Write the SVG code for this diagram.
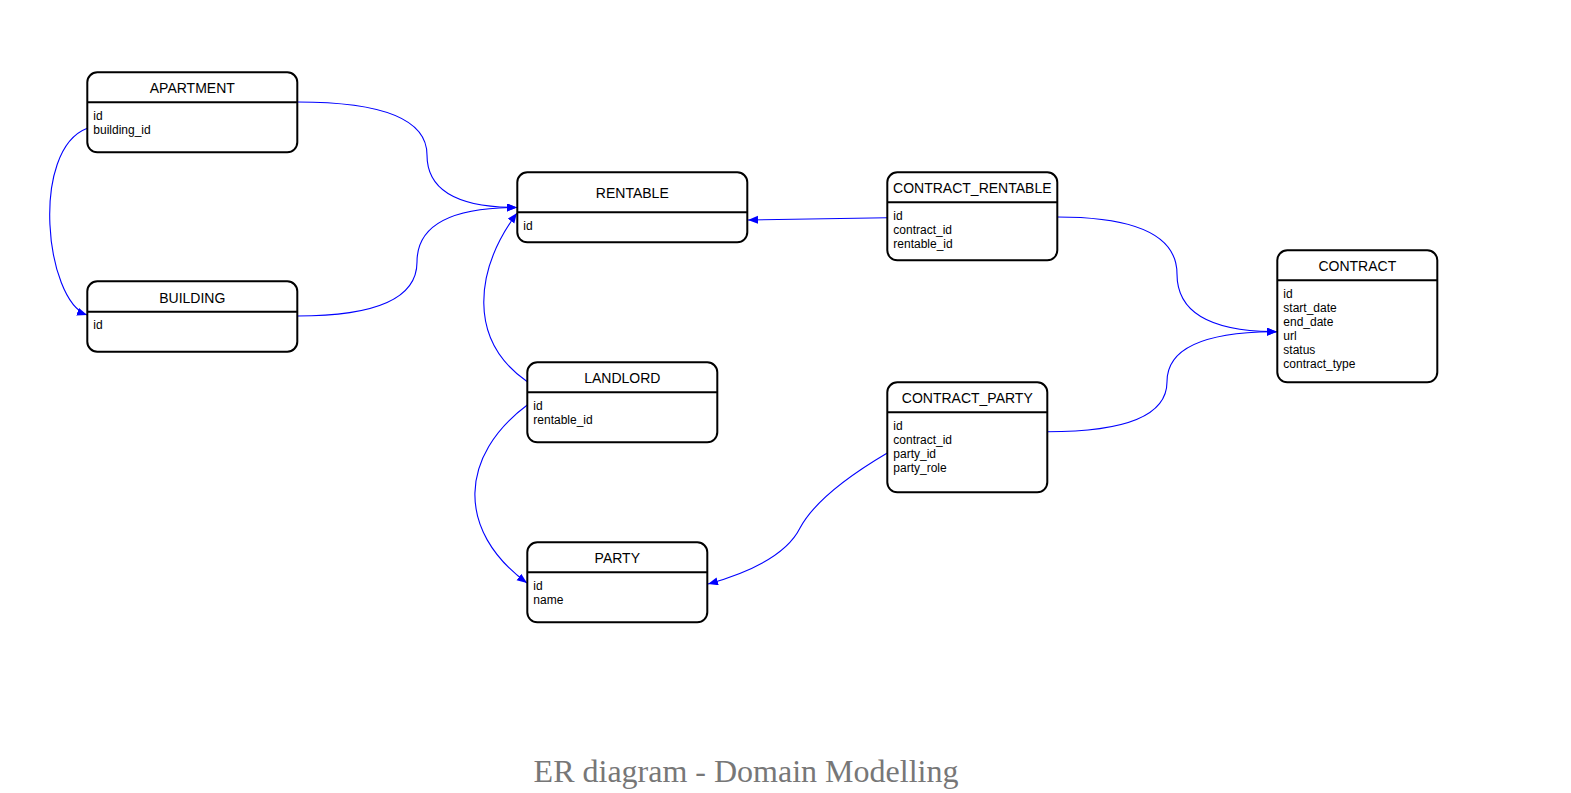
<svg xmlns="http://www.w3.org/2000/svg" width="1571" height="793" viewBox="0 0 1571 793">
<style>
.box{fill:#fff;stroke:#000;stroke-width:2}
.hdr{stroke:#000;stroke-width:2}
.title{font-family:"Liberation Sans",Arial,sans-serif;font-size:14px;fill:#000;text-anchor:middle}
.field{font-family:"Liberation Sans",Arial,sans-serif;font-size:12px;fill:#000}
.conn{fill:none;stroke:#0000ff;stroke-width:1.1;marker-end:url(#arrow)}
.caption{font-family:"Liberation Serif","Times New Roman",serif;font-size:32px;fill:#777;text-anchor:middle}
</style>
<defs>
<marker id="arrow" markerUnits="userSpaceOnUse" markerWidth="11" markerHeight="9" refX="10" refY="4" orient="auto">
<path d="M0,0 L10,4 L0,8 z" fill="#0000ff"/>
</marker>
</defs>
<rect width="1571" height="793" fill="#fff"/>
<g id="connectors">
<path class="conn" d="M297.3,102 Q427,102 427,155 Q427,207.5 517,207.5"/>
<path class="conn" d="M297.3,316 Q417,316 417,262 Q417,207.5 517,207.5"/>
<path class="conn" d="M527.3,381.7 C467,340 475,270 517,213"/>
<path class="conn" d="M527.3,405 C460,455 455,530 527,583"/>
<path class="conn" d="M87.3,128.3 C30,150 45,300 87,315"/>
<path class="conn" d="M887.3,217.7 L748,220"/>
<path class="conn" d="M1057.3,217 Q1177,217 1177,274 Q1177,331.7 1277,331.7"/>
<path class="conn" d="M1047.3,431.7 Q1167,431.7 1167,381.7 Q1167,331.7 1277,331.7"/>
<path class="conn" d="M887.3,453 C850,475 815,500 800,528 C785,558 740,575 708,584"/>
</g>
<g id="apartment">
<rect class="box" x="87.3" y="72.3" width="210" height="80" rx="10"/>
<line class="hdr" x1="87.3" y1="102.3" x2="297.3" y2="102.3"/>
<text class="title" x="192.3" y="93.3">APARTMENT</text>
<text class="field" x="93.3" y="120">id</text>
<text class="field" x="93.3" y="134">building_id</text>
</g>
<g id="building">
<rect class="box" x="87.3" y="281.3" width="210" height="70.4" rx="10"/>
<line class="hdr" x1="87.3" y1="311.7" x2="297.3" y2="311.7"/>
<text class="title" x="192.3" y="302.5">BUILDING</text>
<text class="field" x="93.3" y="329">id</text>
</g>
<g id="rentable">
<rect class="box" x="517.3" y="172.3" width="230" height="70" rx="10"/>
<line class="hdr" x1="517.3" y1="212.3" x2="747.3" y2="212.3"/>
<text class="title" x="632.3" y="198.3">RENTABLE</text>
<text class="field" x="523.3" y="229.5">id</text>
</g>
<g id="landlord">
<rect class="box" x="527.3" y="362.3" width="190" height="80" rx="10"/>
<line class="hdr" x1="527.3" y1="392.3" x2="717.3" y2="392.3"/>
<text class="title" x="622.3" y="383.3">LANDLORD</text>
<text class="field" x="533.3" y="409.5">id</text>
<text class="field" x="533.3" y="423.5">rentable_id</text>
</g>
<g id="party">
<rect class="box" x="527.3" y="542.3" width="180" height="80" rx="10"/>
<line class="hdr" x1="527.3" y1="572.3" x2="707.3" y2="572.3"/>
<text class="title" x="617.3" y="563.3">PARTY</text>
<text class="field" x="533.3" y="589.5">id</text>
<text class="field" x="533.3" y="603.5">name</text>
</g>
<g id="contract_rentable">
<rect class="box" x="887.3" y="172.3" width="170" height="88" rx="10"/>
<line class="hdr" x1="887.3" y1="202.3" x2="1057.3" y2="202.3"/>
<text class="title" x="972.3" y="193.3">CONTRACT_RENTABLE</text>
<text class="field" x="893.3" y="219.5">id</text>
<text class="field" x="893.3" y="233.5">contract_id</text>
<text class="field" x="893.3" y="247.5">rentable_id</text>
</g>
<g id="contract">
<rect class="box" x="1277.3" y="250.3" width="160" height="132" rx="10"/>
<line class="hdr" x1="1277.3" y1="280.3" x2="1437.3" y2="280.3"/>
<text class="title" x="1357.3" y="271.3">CONTRACT</text>
<text class="field" x="1283.3" y="297.5">id</text>
<text class="field" x="1283.3" y="311.5">start_date</text>
<text class="field" x="1283.3" y="325.5">end_date</text>
<text class="field" x="1283.3" y="339.5">url</text>
<text class="field" x="1283.3" y="353.5">status</text>
<text class="field" x="1283.3" y="367.5">contract_type</text>
</g>
<g id="contract_party">
<rect class="box" x="887.3" y="382.3" width="160" height="110" rx="10"/>
<line class="hdr" x1="887.3" y1="412.3" x2="1047.3" y2="412.3"/>
<text class="title" x="967.3" y="403.3">CONTRACT_PARTY</text>
<text class="field" x="893.3" y="429.5">id</text>
<text class="field" x="893.3" y="443.5">contract_id</text>
<text class="field" x="893.3" y="457.5">party_id</text>
<text class="field" x="893.3" y="471.5">party_role</text>
</g>
<text class="caption" x="746" y="782">ER diagram - Domain Modelling</text>
</svg>
